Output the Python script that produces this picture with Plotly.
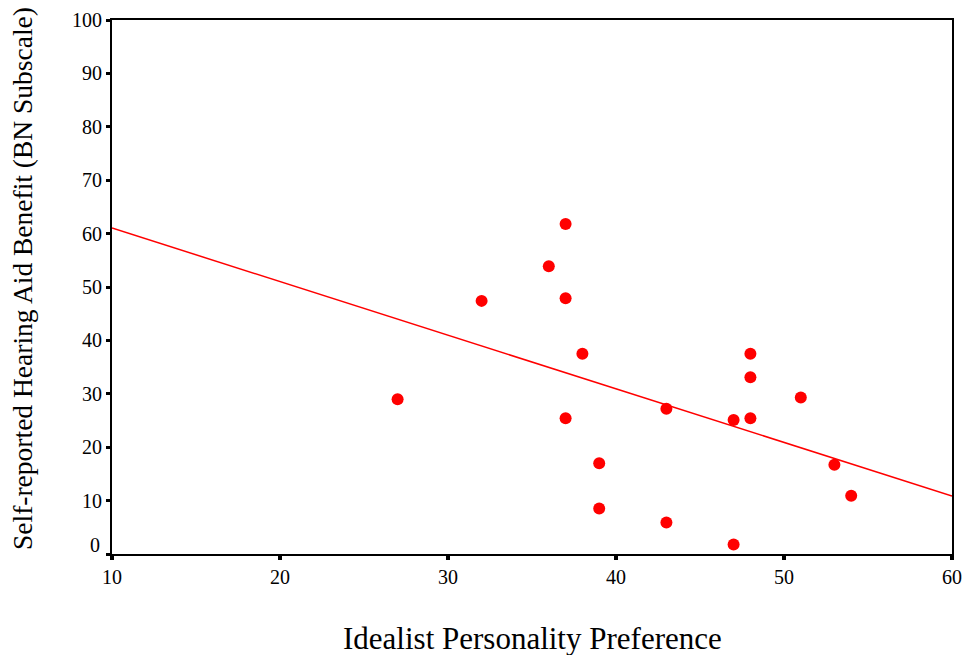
import plotly.graph_objects as go

# Data
idealist = [27, 32, 36, 37, 37, 38, 37, 39, 39, 43, 43, 47, 48, 48, 48, 51, 53, 54, 47]
benefit = [29.0, 47.4, 53.9, 61.8, 47.9, 37.5, 25.4, 17.0, 8.5, 27.2, 5.9, 25.1,
           37.5, 33.1, 25.4, 29.3, 16.7, 10.9, 1.8]

# Fit line endpoints
fit_x = [10, 60]
fit_y = [61.05, 10.86]

x_ticks = [10, 20, 30, 40, 50, 60]
y_ticks = [0, 10, 20, 30, 40, 50, 60, 70, 80, 90, 100]
y_tick_text = ["" if v == 0 else str(v) for v in y_ticks]

x_title = "Idealist Personality Preference"
y_title = "Self-reported Hearing Aid Benefit (BN Subscale)"

FONT = "Liberation Serif, Times New Roman, serif"

fig = go.Figure()
fig.add_trace(go.Scatter(x=fit_x, y=fit_y, mode="lines",
                         line=dict(color="#ff0000", width=1.5),
                         hoverinfo="skip", showlegend=False))
fig.add_trace(go.Scatter(x=idealist, y=benefit, mode="markers",
                         marker=dict(color="#ff0000", size=12, line=dict(width=0)),
                         showlegend=False))

fig.update_layout(
    template="none",
    width=969, height=655,
    margin=dict(l=112, r=17, t=20, b=101, autoexpand=False),
    paper_bgcolor="white", plot_bgcolor="white",
    font=dict(family=FONT, color="black", size=20),
    xaxis=dict(range=[10, 60], tickvals=x_ticks, ticks="outside", ticklen=4,
               tickwidth=4, tickcolor="black", showline=True, linecolor="black",
               linewidth=2, mirror=True, showgrid=False, zeroline=False,
               automargin=False,
               tickfont=dict(size=20, family=FONT)),
    yaxis=dict(range=[0, 100], tickvals=y_ticks, ticktext=y_tick_text,
               ticks="outside", ticklen=4, tickwidth=3, tickcolor="black",
               showline=True, linecolor="black", linewidth=2, mirror=True,
               showgrid=False, zeroline=False, automargin=False,
               tickfont=dict(size=20, family=FONT)),
)

fig.add_annotation(x=0, xref="paper", y=1.7, yref="y", text="0",
                   showarrow=False, xanchor="right", yanchor="middle",
                   xshift=-10, font=dict(size=20, family=FONT, color="black"))

fig.add_annotation(x=0.5, xref="paper", y=0, yref="paper", text=x_title,
                   showarrow=False, xanchor="center", yanchor="middle",
                   yshift=-84, font=dict(size=31, family=FONT, color="black"))

fig.add_annotation(x=0, xref="paper", y=0.515, yref="paper", text=y_title,
                   textangle=-90, showarrow=False, xanchor="center",
                   yanchor="middle", xshift=-89,
                   font=dict(size=27.5, family=FONT, color="black"))

fig.write_html("out.html")
